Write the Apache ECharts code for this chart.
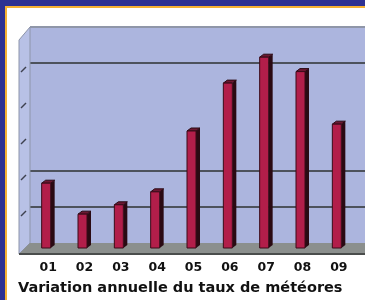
<!DOCTYPE html>
<html>
<head>
<meta charset="utf-8">
<script src="https://cdn.jsdelivr.net/npm/echarts@6/dist/echarts.min.js"></script>
<style>
  html, body { margin: 0; padding: 0; background: #fff; }
  #chart { width: 365px; height: 300px; }
</style>
</head>
<body>
<div id="chart"></div>
<script>
var years = ['01', '02', '03', '04', '05', '06', '07', '08', '09'];
var rates = [18, 9.4, 12, 15.6, 32.5, 45.8, 53, 49, 34.4];
var wallTicks = [10, 20, 30, 40, 50];
// quelles lignes du fond sont visibles (0..60)
var gridColors = ['rgba(0,0,0,0)', '#4d525c', '#4d525c', 'rgba(0,0,0,0)', 'rgba(0,0,0,0)', '#4d525c', '#8f96a8'];

var myChart = echarts.init(document.getElementById('chart'));

var option = {
    backgroundColor: '#fff',
    animation: false,
    title: {
        text: 'Variation annuelle du taux de météores',
        left: 18,
        top: 281,
        padding: 0,
        textStyle: { fontFamily: 'DejaVu Sans', fontWeight: 'bold', fontSize: 14.5, color: '#111' }
    },
    grid: [
        { left: 30, right: 8, top: 27, bottom: 57 },
        { left: 30, right: 0, top: 27, bottom: 57, show: true, backgroundColor: '#acb5de', borderWidth: 0 }
    ],
    xAxis: [
        {
            type: 'category',
            gridIndex: 0,
            data: years,
            axisLine: { show: false },
            axisTick: { show: false },
            axisLabel: { margin: 18, color: '#111', fontFamily: 'DejaVu Sans', fontWeight: 'bold', fontSize: 12.5 }
        },
        { type: 'value', gridIndex: 1, min: 0, max: 1, show: false }
    ],
    yAxis: [
        { type: 'value', gridIndex: 0, min: 0, max: 60, interval: 10, show: false },
        {
            type: 'value', gridIndex: 1, min: 0, max: 60, interval: 10,
            axisLine: { show: false }, axisTick: { show: false }, axisLabel: { show: false },
            splitLine: { show: true, lineStyle: { color: gridColors, width: 2 } }
        }
    ],
    graphic: [
        // mur de gauche
        { type: 'polygon', z: 1, shape: { points: [[19, 40], [30, 27], [30, 243], [19, 254]] },
          style: { fill: '#b8c1e6', stroke: '#8d95aa', lineWidth: 1 } },
        // sol
        { type: 'polygon', z: 1, shape: { points: [[30, 243], [366, 243], [366, 254], [19, 254]] },
          style: { fill: '#8b8f8d' } },
        { type: 'line', z: 1, shape: { x1: 19, y1: 254, x2: 366, y2: 254 }, style: { stroke: '#4a4d4c', lineWidth: 2 } },
        // cadre
        { type: 'rect', z: 10, shape: { x: 0, y: 0, width: 365, height: 6 }, style: { fill: '#2e3192' } },
        { type: 'rect', z: 10, shape: { x: 0, y: 0, width: 5, height: 300 }, style: { fill: '#2e3192' } },
        { type: 'rect', z: 10, shape: { x: 5, y: 6, width: 360, height: 2 }, style: { fill: '#f6b133' } },
        { type: 'rect', z: 10, shape: { x: 5, y: 6, width: 2, height: 294 }, style: { fill: '#f6b133' } }
    ],
    series: [
        {
            name: 'taux',
            type: 'custom',
            xAxisIndex: 0,
            yAxisIndex: 0,
            z: 3,
            data: rates.map(function (v, i) { return [i, v]; }),
            renderItem: function (params, api) {
                var top = api.coord([api.value(0), api.value(1)]);
                var base = api.coord([api.value(0), 0]);
                var w = 9, dx = 4, dy = 3, off = 5;
                var x0 = top[0] - 6.5;
                var yt = top[1] + off, yb = base[1] + off;
                return {
                    type: 'group',
                    children: [
                        { type: 'polygon', shape: { points: [[x0 + w, yt], [x0 + w + dx, yt - dy], [x0 + w + dx, yb - dy], [x0 + w, yb]] },
                          style: { fill: '#2a0a13' } },
                        { type: 'polygon', shape: { points: [[x0, yt], [x0 + dx, yt - dy], [x0 + w + dx, yt - dy], [x0 + w, yt]] },
                          style: { fill: '#6c1832', stroke: '#2a0a13', lineWidth: 1 } },
                        { type: 'rect', shape: { x: x0, y: yt, width: w, height: yb - yt },
                          style: { fill: '#b21e4a', stroke: '#3a0b18', lineWidth: 1 } }
                    ]
                };
            }
        },
        {
            name: 'traits',
            type: 'custom',
            xAxisIndex: 1,
            yAxisIndex: 1,
            z: 2,
            silent: true,
            data: wallTicks.map(function (v) { return [0, v]; }),
            renderItem: function (params, api) {
                var p = api.coord([0, api.value(1)]);
                return {
                    type: 'line',
                    shape: { x1: 21, y1: p[1] + 9, x2: 26, y2: p[1] + 4 },
                    style: { stroke: '#3e4250', lineWidth: 1.5 }
                };
            }
        }
    ]
};

myChart.setOption(option, true);
</script>
</body>
</html>
